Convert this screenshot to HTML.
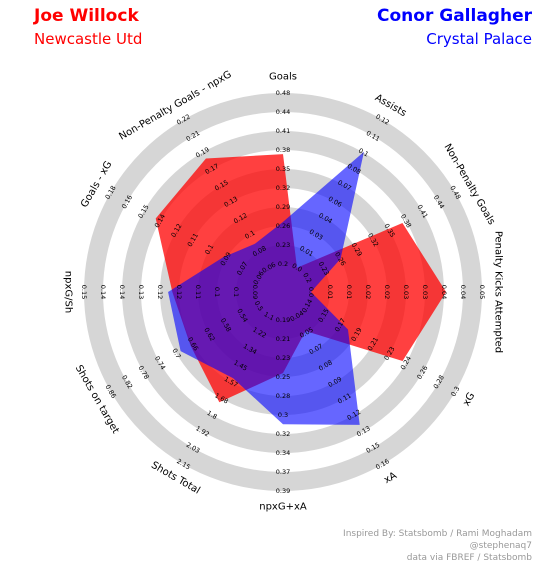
<!DOCTYPE html>
<html><head><meta charset="utf-8"><style>
body{margin:0;background:#fff;}
svg{display:block;font-family:"DejaVu Sans","Liberation Sans",sans-serif;}
</style></head><body>
<svg id="chart" width="538" height="574" viewBox="0 0 538 574" xmlns="http://www.w3.org/2000/svg">
<text x="34" y="21" font-size="17" font-weight="bold" fill="#ff0000">Joe Willock</text>
<text x="34" y="44" font-size="15" fill="#ff0000">Newcastle Utd</text>
<text x="532" y="21" font-size="17" font-weight="bold" fill="#0000ff" text-anchor="end">Conor Gallagher</text>
<text x="532" y="44" font-size="15" fill="#0000ff" text-anchor="end">Crystal Palace</text>
<g id="rings"></g>
<g id="polys"></g>
<g id="ticks"></g>
<g id="params"></g>
<text x="532" y="536" font-size="9" fill="#999" text-anchor="end">Inspired By: Statsbomb / Rami Moghadam</text>
<text x="532" y="548" font-size="9" fill="#999" text-anchor="end">@stephenaq7</text>
<text x="532" y="560" font-size="9" fill="#999" text-anchor="end">data via FBREF / Statsbomb</text>
</svg>
<script>
const params = ["Goals","Assists","Non-Penalty Goals","Penalty Kicks Attempted","xG","xA","npxG+xA","Shots Total","Shots on target","npxG/Sh","Goals - xG","Non-Penalty Goals - npxG"];
const tickLabels = [
["0.2","0.23","0.26","0.29","0.32","0.35","0.38","0.41","0.44","0.48"],
["0.0","0.01","0.03","0.04","0.06","0.07","0.08","0.1","0.11","0.12"],
["0.2","0.23","0.26","0.29","0.32","0.35","0.38","0.41","0.44","0.48"],
["0.0","0.01","0.01","0.02","0.02","0.03","0.03","0.04","0.04","0.05"],
["0.14","0.15","0.17","0.19","0.21","0.23","0.24","0.26","0.28","0.3"],
["0.04","0.05","0.07","0.08","0.09","0.11","0.12","0.13","0.15","0.16"],
["0.19","0.21","0.23","0.25","0.28","0.3","0.32","0.34","0.37","0.39"],
["1.1","1.22","1.34","1.45","1.57","1.68","1.8","1.92","2.03","2.15"],
["0.5","0.54","0.58","0.62","0.66","0.7","0.74","0.78","0.82","0.86"],
["0.09","0.1","0.1","0.11","0.12","0.12","0.13","0.14","0.14","0.15"],
["0.06","0.07","0.09","0.1","0.11","0.12","0.14","0.15","0.16","0.18"],
["0.06","0.08","0.1","0.12","0.13","0.15","0.17","0.19","0.21","0.22"]];
const lowValues  = [0.2,0.0,0.2,0.0,0.14,0.04,0.19,1.1,0.5,0.09,0.06,0.06];
const highValues = [0.48,0.12,0.48,0.05,0.30,0.16,0.39,2.15,0.86,0.15,0.18,0.22];
const willockValues   = [0.38,0.0,0.38,0.0395,0.243,0.052,0.252,1.71,0.666,0.119,0.1435,0.178];
const gallagherValues = [0.269,0.094,0.263,0.0,0.184,0.128,0.312,1.54,0.69,0.1205,0.089,0.086];

const NS="http://www.w3.org/2000/svg";
const cx=283, cy=292, r0=28, step=19;
const rMax=r0+9*step;
function angleOf(i){return i*360/params.length;}
function rScale(i,v){return r0+(v-lowValues[i])/(highValues[i]-lowValues[i])*(rMax-r0);}
function pt(aDeg,r){const a=aDeg*Math.PI/180;return [cx+r*Math.sin(a),cy-r*Math.cos(a)];}
function rot(a){if(a===270)return 90;return (a<=90||a>270)?(a>180?a-360:a):a-180;}

const rings=document.getElementById('rings');
for(let k=0;k<5;k++){
  const inner=r0+2*k*step, outer=inner+step;
  const c=document.createElementNS(NS,'circle');
  
  
  c.setAttribute('cx',cx);c.setAttribute('cy',cy);c.setAttribute('r',(inner+outer)/2);
  c.setAttribute('fill','none');c.setAttribute('stroke','#d6d6d6');c.setAttribute('stroke-width',step);
  rings.appendChild(c);
}
const polys=document.getElementById('polys');
function drawPoly(vals,color,op,name){
  const p=document.createElementNS(NS,'polygon');
  
  
  p.setAttribute('points',vals.map((v,i)=>pt(angleOf(i),rScale(i,v)).join(',')).join(' '));
  p.setAttribute('fill',color);p.setAttribute('fill-opacity',op);
  polys.appendChild(p);
}
drawPoly(willockValues,'#ff0000',0.75,'willock-polygon');
drawPoly(gallagherValues,'#0000ff',0.6,'gallagher-polygon');

const ticks=document.getElementById('ticks');
const params_g=document.getElementById('params');
params.forEach((name,i)=>{
  const a=angleOf(i), ro=rot(a);
  tickLabels[i].forEach((lab,j)=>{
    const [x,y]=pt(a,r0+j*step);
    const t=document.createElementNS(NS,'text');
    
    
    t.setAttribute('x',x);t.setAttribute('y',y);
    t.setAttribute('font-size','6.5');t.setAttribute('text-anchor','middle');
    t.setAttribute('dominant-baseline','central');
    t.setAttribute('transform',`rotate(${ro} ${x} ${y})`);
    t.textContent=lab;ticks.appendChild(t);
  });
  const [x,y]=pt(a,215);
  const t=document.createElementNS(NS,'text');
  
  
  t.setAttribute('x',x);t.setAttribute('y',y);
  t.setAttribute('font-size','10');t.setAttribute('text-anchor','middle');
  t.setAttribute('dominant-baseline','central');
  t.setAttribute('transform',`rotate(${ro} ${x} ${y})`);
  t.textContent=name;params_g.appendChild(t);
});
</script>
</body></html>
